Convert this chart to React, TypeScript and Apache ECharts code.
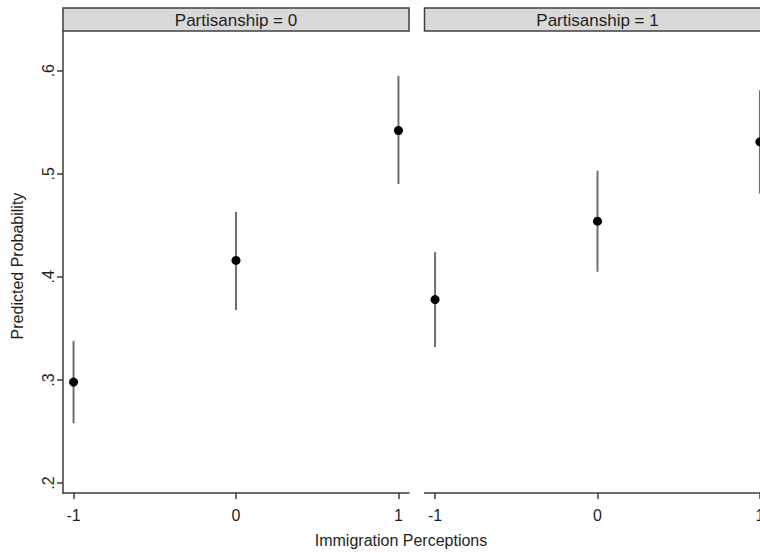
import React, { useEffect, useRef } from "react";
import * as echarts from "echarts";

const perceptions = [-1, 0, 1];
const panelTitles = ["Partisanship = 0", "Partisanship = 1"];
const p0Est = [0.298, 0.416, 0.542];
const p0Lo = [0.258, 0.368, 0.49];
const p0Hi = [0.338, 0.463, 0.595];
const p1Est = [0.378, 0.454, 0.531];
const p1Lo = [0.332, 0.405, 0.481];
const p1Hi = [0.424, 0.503, 0.581];
const yTicks = [0.2, 0.3, 0.4, 0.5, 0.6];
const xTicks = [-1, 0, 1];
const xTitle = "Immigration Perceptions";
const yTitle = "Predicted Probability";

const FONT = '"Liberation Sans", Arial, sans-serif';
const AXIS_COLOR = "#3a3a3a";
const TEXT_COLOR = "#1e1e1e";

export default function App() {
  const ref = useRef<HTMLDivElement>(null);
  useEffect(() => {
    if (!ref.current) return;
    const chart = echarts.init(ref.current, undefined, { renderer: "svg" });

    const panels = [
      { est: p0Est, lo: p0Lo, hi: p0Hi },
      { est: p1Est, lo: p1Lo, hi: p1Hi },
    ];

    const grids = [
      { left: 63, top: 31, width: 346, height: 462, outerBoundsMode: "none", containLabel: false },
      { left: 424.5, top: 31, width: 346, height: 462, outerBoundsMode: "none", containLabel: false },
    ];

    const xAxes = grids.map((_, i) => ({
      type: "value",
      gridIndex: i,
      min: -1.065,
      max: 1.065,
      splitLine: { show: false },
      axisLine: { show: true, lineStyle: { color: AXIS_COLOR, width: 1.5 } },
      axisTick: {
        show: true,
        length: 6,
        customValues: xTicks,
        lineStyle: { color: AXIS_COLOR, width: 1.5 },
      },
      axisLabel: {
        show: true,
        customValues: xTicks,
        margin: 14,
        fontSize: 16,
        fontFamily: FONT,
        color: TEXT_COLOR,
        formatter: (v: number) => String(Math.round(v)),
      },
    }));

    const yAxes = grids.map((_, i) => ({
      type: "value",
      gridIndex: i,
      min: 0.1904,
      max: 0.6385,
      splitLine: { show: false },
      axisLine: { show: i === 0, onZero: false, lineStyle: { color: AXIS_COLOR, width: 1.5 } },
      axisTick: {
        show: i === 0,
        length: 6,
        customValues: yTicks,
        lineStyle: { color: AXIS_COLOR, width: 1.5 },
      },
      axisLabel: {
        show: i === 0,
        customValues: yTicks,
        rotate: 90,
        margin: 7,
        fontSize: 16,
        fontFamily: FONT,
        color: TEXT_COLOR,
        formatter: (v: number) => v.toFixed(1).replace(/^0/, ""),
      },
    }));

    const series: any[] = [];
    panels.forEach((p, i) => {
      series.push({
        type: "custom",
        xAxisIndex: i,
        yAxisIndex: i,
        encode: { x: 0, y: [1, 2] },
        data: perceptions.map((x, k) => [x, p.lo[k], p.hi[k]]),
        renderItem: (params: any, api: any) => {
          const x = api.value(0);
          const a = api.coord([x, api.value(1)]);
          const b = api.coord([x, api.value(2)]);
          return {
            type: "line",
            shape: { x1: a[0], y1: a[1], x2: b[0], y2: b[1] },
            style: { stroke: "#6f6f6f", lineWidth: 2 },
          };
        },
        z: 2,
      });
      series.push({
        type: "scatter",
        xAxisIndex: i,
        yAxisIndex: i,
        symbol: "circle",
        symbolSize: 9,
        itemStyle: { color: "#000000", opacity: 1 },
        data: perceptions.map((x, k) => [x, p.est[k]]),
        z: 3,
      });
    });

    const graphic: any[] = [];
    grids.forEach((g, i) => {
      graphic.push({
        type: "rect",
        shape: { x: g.left, y: 8, width: g.width, height: 23 },
        style: { fill: "#d9d9d9", stroke: "#3f3f3f", lineWidth: 1.5 },
        z: 10,
      });
      graphic.push({
        type: "text",
        x: g.left + g.width / 2,
        y: 20,
        style: {
          text: panelTitles[i],
          align: "center",
          verticalAlign: "middle",
          font: `17px ${FONT}`,
          fill: TEXT_COLOR,
        },
        z: 11,
      });
    });
    graphic.push({
      type: "text",
      x: 401,
      y: 540,
      style: {
        text: xTitle,
        align: "center",
        verticalAlign: "middle",
        font: `16px ${FONT}`,
        fill: TEXT_COLOR,
      },
    });
    graphic.push({
      type: "text",
      x: 17,
      y: 266,
      rotation: Math.PI / 2,
      style: {
        text: yTitle,
        align: "center",
        verticalAlign: "middle",
        font: `16px ${FONT}`,
        fill: TEXT_COLOR,
      },
    });

    chart.setOption({
      animation: false,
      backgroundColor: "#ffffff",
      grid: grids,
      xAxis: xAxes,
      yAxis: yAxes,
      series,
      graphic,
    });
    return () => chart.dispose();
  }, []);

  return (
    <div
      ref={ref}
      style={{ position: "fixed", left: 0, top: 0, width: 760, height: 553 }}
    />
  );
}
